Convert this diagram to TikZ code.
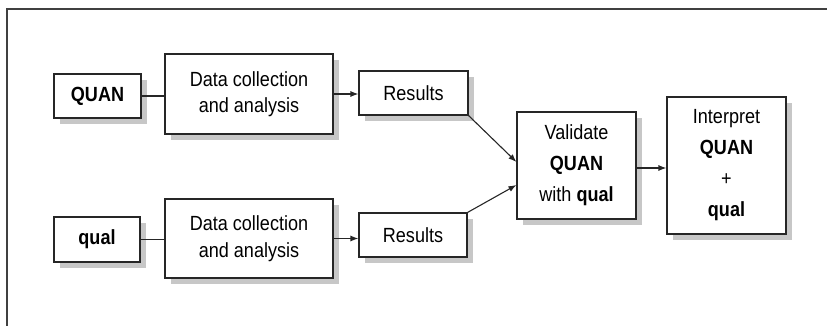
\documentclass[tikz,border=0pt]{standalone}
\usepackage{fontspec}
\setmainfont[FakeStretch=0.88]{Liberation Sans}
\usepackage{tikz}
\usetikzlibrary{arrows.meta, positioning, shadows}

\begin{document}
\begin{tikzpicture}[
        x=1pt, y=-1pt,
        stagebox/.style={rectangle, draw=black!85, line width=1.1pt, fill=white, inner sep=0pt, text centered, align=center,
            drop shadow={shadow xshift=6pt, shadow yshift=-6pt, fill=black!22, opacity=1},
            font=\fontsize{20.5}{26.5}\selectfont},
        tallbox/.style={stagebox, font=\fontsize{20.5}{31}\selectfont},
        link/.style={line width=1.1pt, draw=black!85},
        message/.style={-{Latex[length=8pt, width=6pt]}, line width=1.1pt, draw=black!85},
        frame/.style={line width=1.6pt, draw=black!75},
    ]
        \useasboundingbox (0,0) rectangle (827,326);
        \draw[frame] (827,9) -- (7,9) -- (7,326);

        % upper strand
        \node[stagebox, minimum width=87pt, minimum height=44pt] (quan) at (97.5,96) {\textbf{QUAN}};
        \node[stagebox, minimum width=168pt, minimum height=80pt] (collect1) at (249,94) {Data collection\\and analysis};
        \node[stagebox, minimum width=109pt, minimum height=44pt] (results1) at (413.5,93) {Results};

        % lower strand
        \node[stagebox, minimum width=86pt, minimum height=45pt] (qual) at (97,239.5) {\textbf{qual}};
        \node[stagebox, minimum width=168pt, minimum height=79pt] (collect2) at (249,238.5) {Data collection\\and analysis};
        \node[stagebox, minimum width=108pt, minimum height=44pt] (results2) at (413,235) {Results};

        % merging
        \node[tallbox, minimum width=119pt, minimum height=107pt] (validate) at (576.5,165.5) {Validate\\\textbf{QUAN}\\with \textbf{qual}};
        \node[tallbox, minimum width=119pt, minimum height=137pt] (interpret) at (726.5,165.5) {Interpret\\\textbf{QUAN}\\+\\\textbf{qual}};

        \draw[link] (quan.east) -- (quan.east -| collect1.west);
        \draw[link] (qual.east) -- (qual.east -| collect2.west);
        \draw[message] (collect1.east) -- (collect1.east -| results1.west);
        \draw[message] (collect2.east) -- (collect2.east -| results2.west);
        \draw[message] (results1.south east) -- ([yshift=3.5pt]validate.west);
        \draw[message] (results2.north east) -- ([yshift=-19.5pt]validate.west);
        \draw[message] ([yshift=-2.5pt]validate.east) -- ([yshift=-2.5pt]interpret.west);
    \end{tikzpicture}
\end{document}
